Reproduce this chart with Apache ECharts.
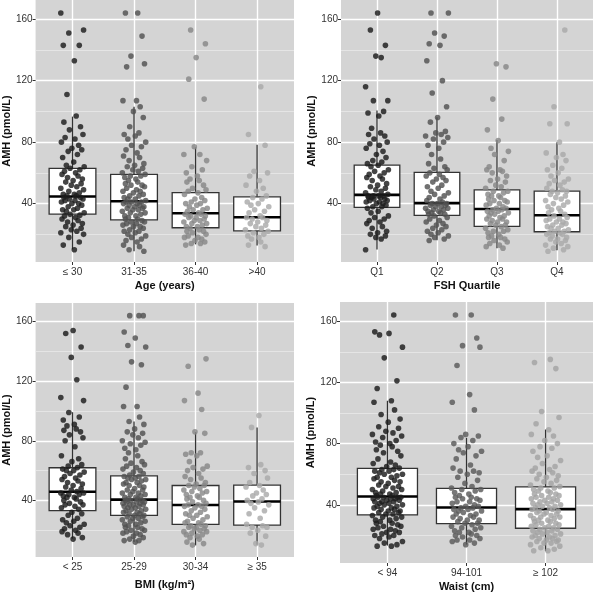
<!DOCTYPE html>
<html><head><meta charset="utf-8">
<script src="https://cdn.jsdelivr.net/npm/echarts@6/dist/echarts.min.js"></script>
<style>html,body{margin:0;padding:0;background:#fff}#c{width:600px;height:595px}</style>
</head><body><div id="c"></div><script>
// ---------- categories ----------
const ageCats = ['≤ 30', '31-35', '36-40', '>40'];
const fshCats = ['Q1', 'Q2', 'Q3', 'Q4'];
const bmiCats = ['< 25', '25-29', '30-34', '≥ 35'];
const waistCats = ['< 94', '94-101', '≥ 102'];

// ---------- y ticks ----------
const yMajor = [40, 80, 120, 160];
const yMinor = [20, 60, 100, 140];

// ---------- box stats [lower whisker, Q1, median, Q3, upper whisker] ----------
const ageBox = [[10.2, 33.1, 44.6, 62.9, 96.6], [9.0, 29.4, 41.5, 59.0, 103], [13.5, 24.3, 33.7, 47.2, 76.6], [12.8, 22.2, 31.1, 44.4, 78.3]];
const fshBox = [[10.2, 37.6, 45.7, 65.1, 100.6], [16.1, 32.4, 40.3, 60.3, 96.2], [10.9, 25.2, 36.5, 48.9, 81.4], [9.6, 21.7, 32.4, 48.1, 79.9]];
const bmiBox = [[14.3, 33.1, 45.8, 61.9, 99.2], [12.0, 29.9, 40.5, 56.5, 93.0], [9.8, 23.9, 36.9, 50.0, 85.8], [10.3, 23.4, 39.3, 50.3, 88.9]];
const waistBox = [[13.4, 33.5, 45.4, 63.8, 108], [14.0, 27.7, 38.3, 50.8, 83.8], [9.7, 24.7, 37.2, 51.7, 89.2]];

// ---------- individual AMH values (pmol/L) per group ----------
const agePts = [
  [10,13,15,18,20,21,22,23,24,25,26,27,28,29,30,31,32,32.5,33,34,35,36,36,37,38,39,40,40,41,42,42,43,43,44,44,45,45,46,46,47,48,49,50,51,52,53,54,55,56,57,58,59,60,61,62,63,64,65,67,70,72,74,75,76,78,80,82,83,85,88,90,93,97,111,133,143,143,151,153,164],
  [9,10,12,13,15,16,17,18,19,20,21,22,22,23,24,25,25,26,27,27,28,28,29,30,30,31,32,32,33,34,34,35,36,36,37,37,38,38,39,39,40,40,41,41,41,42,43,43,44,45,45,46,47,48,48,49,50,51,52,52,53,54,55,56,57,58,58,59,60,61,62,63,64,65,66,68,70,71,73,75,77,78,80,82,84,85,86,90,96,100,103,107,107,129,131,136,149,164,164],
  [13,14,14,15,16,17,18,18,19,20,21,22,22,23,24,25,25,26,27,27,28,29,29,30,31,31,32,32,33,33,34,35,36,36,37,38,39,40,40,41,42,43,44,46,47,48,49,50,52,54,55,56,58,60,62,64,68,72,72,77,108,121,135,144,153],
  [12,13,15,17,18,19,20,21,22,23,24,25,26,27,28,29,30,31,31,32,34,35,36,38,39,40,41,43,44,45,48,50,52,55,58,60,61,78,85,116]
];
const fshPts = [
  [10,17,18,19,20,21,22,24,25,27,28,29,30,31,32,34,35,37,38,38,39,40,40,41,41,42,42,43,43,44,44,44,45,45,45,45,46,47,48,49,50,51,52,53,55,56,57,58,59,60,61,62,64,65,66,67,68,70,72,74,76,78,79,80,82,84,85,86,89,97,99,100,107,107,116,135,136,143,153,164],
  [16,17,18,19,20,21,22,23,24,25,26,27,28,29,30,31,32,33,33,34,34,35,35,36,36,37,37,38,38,39,39,40,40,40,41,42,43,44,45,46,47,48,50,51,52,54,55,56,57,58,59,60,62,63,64,66,69,72,76,78,80,82,83,84,85,86,87,93,96,103,112,120,133,143,144,149,151,164,164],
  [11,12,13,14,15,16,17,18,18,19,20,21,22,22,23,24,25,26,26,27,28,28,29,30,30,31,32,32,33,34,34,35,35,36,36,37,37,38,39,40,40,41,42,42,43,44,45,45,46,47,48,48,50,51,52,54,55,56,58,60,61,62,62,64,68,72,74,76,81,88,95,108,129,131],
  [9,10,11,12,13,14,15,16,17,17,18,19,20,20,21,21,22,22,23,24,24,25,26,26,27,28,28,29,30,30,31,32,33,34,35,36,37,38,39,40,41,42,43,44,45,46,47,48,48,49,50,52,53,54,55,56,58,60,62,63,65,68,70,72,73,80,92,92,103,153]
];
const bmiPts = [
  [14,15,17,18,19,20,21,22,23,24,25,26,27,28,30,31,32,34,35,36,37,37,38,39,40,41,42,42,43,44,44,45,45,46,47,48,49,50,51,52,53,54,55,56,57,58,59,60,60,61,62,63,64,66,68,70,76,80,82,84,86,87,88,90,91,94,96,99,107,109,121,136,143,152,154],
  [12,13,13,14,15,16,17,18,18,19,20,20,21,22,22,23,24,24,25,26,26,27,28,28,29,29,30,30,31,31,32,32,33,33,34,34,35,35,36,36,37,37,37,38,38,39,39,39,40,40,40,41,41,42,42,43,44,44,45,45,46,47,47,48,49,50,50,51,52,52,53,54,54,55,55,56,56,57,58,59,60,61,62,63,64,65,66,68,70,72,74,75,77,78,79,80,82,84,85,86,88,91,93,96,103,103,116,131,133,143,144,149,153,164,164,164],
  [10,11,12,14,15,16,17,17,18,19,19,20,21,21,22,22,23,23,24,25,25,26,27,28,29,30,30,31,32,33,34,35,36,36,37,37,38,39,40,41,42,42,43,44,45,46,46,47,48,49,50,50,51,52,54,55,56,58,60,61,62,63,66,70,71,72,72,85,86,101,107,112,130,135],
  [10,11,16,18,20,22,22,23,24,28,31,33,35,37,38,39,40,41,43,44,45,47,49,50,52,55,58,60,62,64,89,97]
];
const waistPts = [
  [13,13,14,15,16,18,19,20,20,21,22,22,23,24,24,25,26,26,27,28,28,29,30,30,31,32,32,33,34,34,35,35,36,36,37,37,38,38,39,39,40,40,41,41,42,42,42,43,43,44,44,44,45,45,45,45,46,46,47,47,48,48,49,50,50,51,52,52,53,54,55,55,56,57,58,58,59,60,60,61,62,62,63,63,64,65,66,67,68,70,72,74,75,76,78,79,80,81,82,84,85,86,87,88,90,91,94,96,99,102,107,108,116,121,136,143,151,152,153,164],
  [14,15,16,17,17,18,19,20,20,21,22,22,23,24,25,25,26,27,28,28,29,30,30,31,32,32,33,34,34,35,36,36,37,37,38,38,39,39,40,41,42,42,43,44,44,45,45,46,47,48,49,50,50,51,52,54,56,58,60,61,62,62,64,66,70,72,74,75,76,78,80,82,84,85,86,102,107,112,131,143,144,149,164,164],
  [10,10,11,12,13,14,15,15,16,16,17,17,18,18,19,19,20,20,21,21,22,22,23,23,24,24,25,25,26,26,27,27,28,28,29,29,30,30,31,31,32,32,33,33,34,34,35,35,36,36,37,37,38,38,39,39,40,40,41,41,42,42,43,43,44,44,45,45,46,46,47,47,48,49,49,50,51,51,52,53,54,55,56,57,58,59,60,61,62,63,64,65,67,69,71,72,75,77,78,80,82,85,86,89,93,97,101,129,133,135]
];

// horizontal jitter offsets (category units), cycled through per point
const jitter = [0.03,-0.15,0.11,-0.06,0.18,-0.19,0.07,-0.02,0.14,-0.11,0.01,0.16,-0.08,0.09,-0.17,0.05,-0.13,0.12,-0.04,0.19,-0.1,0.02,-0.16,0.08,-0.07,0.15,-0.01,0.1,-0.18,0.04,-0.12,0.17,-0.05,0.13,-0.14,0.06,-0.09];

const col4 = ['#1c1c1c', '#525252', '#888888', '#aaaaaa'];
const col3 = ['#1c1c1c', '#5a5a5a', '#a4a4a4'];

const panels = [
  {cats: ageCats, box: ageBox, pts: agePts, title: 'Age (years)', grid: {left: 35, top: 0, width: 259, height: 262}, colors: col4, xGap: 18, yGap: 20},
  {cats: fshCats, box: fshBox, pts: fshPts, title: 'FSH Quartile', grid: {left: 341, top: 0, width: 252, height: 262}, colors: col4, xGap: 18, yGap: 23},
  {cats: bmiCats, box: bmiBox, pts: bmiPts, title: 'BMI (kg/m²)', grid: {left: 35, top: 303, width: 259, height: 254}, colors: col4, xGap: 22, yGap: 20},
  {cats: waistCats, box: waistBox, pts: waistPts, title: 'Waist (cm)', grid: {left: 340, top: 302, width: 253, height: 261}, colors: col3, xGap: 18, yGap: 24}
];

const FONT = 'Liberation Sans, Arial, sans-serif';
const BOX_W = 0.76;

function renderBox(params, api) {
  const x = api.value(0);
  const pLow = api.coord([x, api.value(1)]);
  const pQ1 = api.coord([x, api.value(2)]);
  const pMed = api.coord([x, api.value(3)]);
  const pQ3 = api.coord([x, api.value(4)]);
  const pHigh = api.coord([x, api.value(5)]);
  const l = api.coord([x - BOX_W / 2, api.value(3)])[0];
  const r = api.coord([x + BOX_W / 2, api.value(3)])[0];
  const ls = {stroke: '#333333', lineWidth: 1.3};
  return {type: 'group', children: [
    {type: 'line', shape: {x1: pLow[0], y1: pLow[1], x2: pQ1[0], y2: pQ1[1]}, style: ls},
    {type: 'line', shape: {x1: pQ3[0], y1: pQ3[1], x2: pHigh[0], y2: pHigh[1]}, style: ls},
    {type: 'rect', shape: {x: l, y: pQ3[1], width: r - l, height: pQ1[1] - pQ3[1]}, style: {fill: '#ffffff', stroke: '#333333', lineWidth: 1.3}},
    {type: 'line', shape: {x1: l, y1: pMed[1], x2: r, y2: pMed[1]}, style: {stroke: '#000000', lineWidth: 2.6}}
  ]};
}

const grids = [], xAxes = [], yAxes = [], series = [];
panels.forEach((p, pi) => {
  const n = p.cats.length;
  const catVals = p.cats.map((c, i) => i + 1);
  grids.push(Object.assign({backgroundColor: '#d4d4d4', show: true, borderWidth: 0}, p.grid));
  xAxes.push({
    type: 'value', gridIndex: pi, min: 0.4, max: n + 0.6,
    name: p.title, nameLocation: 'middle', nameGap: p.xGap,
    nameTextStyle: {fontFamily: FONT, fontSize: 11, fontWeight: 'bold', color: '#111'},
    axisLine: {show: false},
    axisTick: {show: true, length: 3, customValues: catVals, lineStyle: {color: '#333'}},
    axisLabel: {customValues: catVals, formatter: v => p.cats[Math.round(v) - 1] || '', fontFamily: FONT, fontSize: 10, color: '#333', margin: 5},
    splitLine: {show: true, lineStyle: {color: '#ffffff', width: 1.4}}
  });
  yAxes.push({
    type: 'value', gridIndex: pi, min: 2, max: 172.5,
    name: 'AMH (pmol/L)', nameLocation: 'middle', nameGap: p.yGap, nameRotate: 90,
    nameTextStyle: {fontFamily: FONT, fontSize: 11, fontWeight: 'bold', color: '#111'},
    axisLine: {show: false},
    axisTick: {show: true, length: 3, customValues: yMajor, lineStyle: {color: '#333'}},
    axisLabel: {customValues: yMajor, fontFamily: FONT, fontSize: 10, color: '#333', margin: 3},
    splitLine: {show: true, lineStyle: {color: '#ffffff', width: 1.4}}
  });
  yAxes.push({
    type: 'value', gridIndex: pi, min: 2, max: 172.5, position: 'left',
    axisLine: {show: false},
    axisTick: {show: false, customValues: yMinor},
    axisLabel: {show: false},
    splitLine: {show: true, lineStyle: {color: '#ececec', width: 0.7}}
  });
  const yIdx = pi * 2;
  series.push({
    type: 'custom', xAxisIndex: pi, yAxisIndex: yIdx, z: 2,
    renderItem: renderBox,
    encode: {x: 0, y: [1, 2, 3, 4, 5]},
    data: p.box.map((b, i) => [i + 1].concat(b)),
    silent: true
  });
  p.pts.forEach((vals, gi) => {
    const data = vals.map((v, k) => [gi + 1 + jitter[(k + gi * 11 + pi * 5) % jitter.length], v]);
    series.push({
      type: 'scatter', xAxisIndex: pi, yAxisIndex: yIdx, z: 3,
      symbol: 'circle', symbolSize: 5.6,
      itemStyle: {color: p.colors[gi], opacity: 0.82},
      data: data, silent: true, animation: false
    });
  });
});

const chart = echarts.init(document.getElementById('c'), null, {renderer: 'canvas'});
chart.setOption({animation: false, grid: grids, xAxis: xAxes, yAxis: yAxes, series: series});
</script></body></html>
